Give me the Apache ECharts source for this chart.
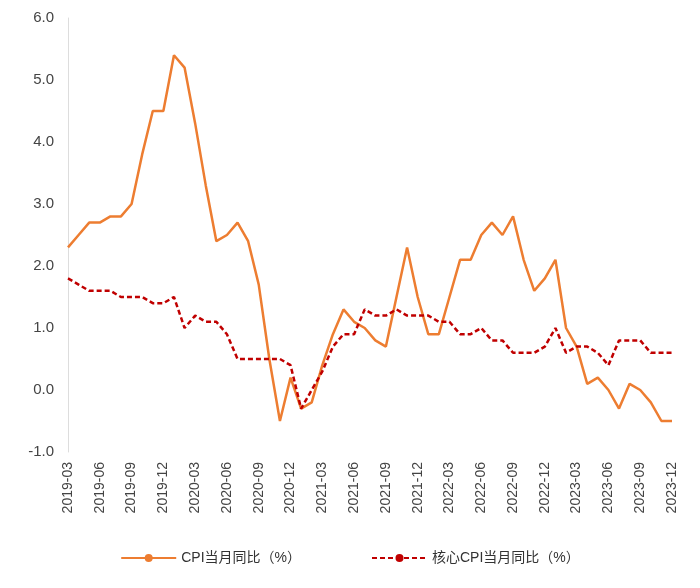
<!DOCTYPE html>
<html>
<head>
<meta charset="utf-8">
<script src="https://cdn.jsdelivr.net/npm/echarts@6/dist/echarts.min.js"></script>
<style>html,body{margin:0;padding:0;background:#fff}#chart{width:700px;height:588px}</style>
</head>
<body>
<div id="chart"></div>
<script>
var months = [];
for (var y = 2019; y <= 2023; y++) {
    for (var m = 1; m <= 12; m++) {
        if (y === 2019 && m < 3) continue;
        months.push(y + '-' + (m < 10 ? '0' + m : m));
    }
}
var cpi = [2.3, 2.5, 2.7, 2.7, 2.8, 2.8, 3.0, 3.8, 4.5, 4.5,
    5.4, 5.2, 4.3, 3.3, 2.4, 2.5, 2.7, 2.4, 1.7, 0.5, -0.5, 0.2,
    -0.3, -0.2, 0.4, 0.9, 1.3, 1.1, 1.0, 0.8, 0.7, 1.5, 2.3, 1.5,
    0.9, 0.9, 1.5, 2.1, 2.1, 2.5, 2.7, 2.5, 2.8, 2.1, 1.6, 1.8,
    2.1, 1.0, 0.7, 0.1, 0.2, 0.0, -0.3, 0.1, 0.0, -0.2, -0.5, -0.5];
var core = [1.8, 1.7, 1.6, 1.6, 1.6, 1.5, 1.5, 1.5, 1.4, 1.4,
    1.5, 1.0, 1.2, 1.1, 1.1, 0.9, 0.5, 0.5, 0.5, 0.5, 0.5, 0.4,
    -0.3, 0.0, 0.3, 0.7, 0.9, 0.9, 1.3, 1.2, 1.2, 1.3, 1.2, 1.2,
    1.2, 1.1, 1.1, 0.9, 0.9, 1.0, 0.8, 0.8, 0.6, 0.6, 0.6, 0.7,
    1.0, 0.6, 0.7, 0.7, 0.6, 0.4, 0.8, 0.8, 0.8, 0.6, 0.6, 0.6];

var chart = echarts.init(document.getElementById('chart'));
var font = '"Liberation Sans","Noto Sans CJK SC",sans-serif';
chart.setOption({
    animation: false,
    textStyle: {fontFamily: font},
    grid: {left: 68, right: 28, top: 18, bottom: 136},
    legend: {
        bottom: 18, itemGap: 70, itemWidth: 55, itemHeight: 10,
        textStyle: {fontSize: 14, color: '#333', fontFamily: font},
        data: ['CPI当月同比（%）', '核心CPI当月同比（%）']
    },
    xAxis: {
        type: 'category', data: months, boundaryGap: false,
        axisLine: {show: false},
        axisTick: {show: false},
        axisLabel: {rotate: 90, interval: 2, fontSize: 14, color: '#444', margin: 10}
    },
    yAxis: {
        type: 'value', min: -1, max: 6, interval: 1,
        axisLine: {show: true, lineStyle: {color: '#ddd'}},
        axisTick: {show: false},
        splitLine: {show: false},
        axisLabel: {fontSize: 15, color: '#444', margin: 14, formatter: function (v) { return v.toFixed(1); }}
    },
    series: [
        {name: 'CPI当月同比（%）', type: 'line', data: cpi, symbol: 'none',
         lineStyle: {color: '#ED7D31', width: 2.5}, itemStyle: {color: '#ED7D31'}},
        {name: '核心CPI当月同比（%）', type: 'line', data: core, symbol: 'none',
         lineStyle: {color: '#C00000', width: 2.5, type: [5, 3]}, itemStyle: {color: '#C00000'}}
    ]
});
</script>
</body>
</html>
